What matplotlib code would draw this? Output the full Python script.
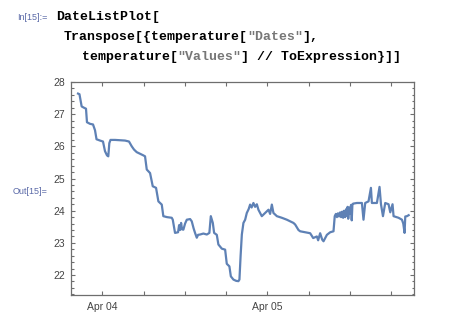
import datetime as dt
import matplotlib
matplotlib.use("Agg")
import matplotlib.pyplot as plt
import matplotlib.dates as mdates
from matplotlib.ticker import MultipleLocator, FuncFormatter

# hours after Apr 04 00:00 and the temperature readings
hours = [-3.53, -3.32, -3.17, -3.0, -2.66, -2.37, -2.23, -1.79, -1.35, -1.06,
         -0.84, -0.33, 0.1, 0.39, 0.68, 0.87, 1.02, 1.19, 1.85, 2.57,
         3.3, 3.88, 4.28, 4.61, 5.0, 5.48, 5.96, 6.21, 6.46, 6.94,
         7.33, 7.81, 8.15, 8.64, 8.87, 9.41, 10.09, 10.24, 10.57, 11.01,
         11.16, 11.3, 11.45, 11.59, 11.78, 12.03, 12.28, 12.76, 13.0, 13.27,
         13.48, 13.73, 13.92, 14.21, 14.69, 15.19, 15.56, 15.77, 16.06, 16.25,
         16.64, 16.87, 17.37, 17.85, 18.09, 18.47, 18.68, 19.05, 19.45, 19.78,
         19.93, 20.1, 20.28, 20.51, 20.76, 21.0, 21.27, 21.48, 21.7, 21.96,
         22.21, 22.46, 22.69, 23.18, 23.67, 24.15, 24.39, 24.64, 24.87, 25.37,
         26.09, 26.82, 27.3, 27.78, 28.03, 28.51, 28.76, 29.48, 30.21, 30.65,
         31.18, 31.37, 31.66, 31.96, 32.15, 32.64, 33.12, 33.6, 33.78, 33.95,
         34.1, 34.25, 34.4, 34.57, 34.7, 34.86, 35.0, 35.15, 35.3, 35.45,
         35.55, 35.65, 35.74, 35.9, 36.03, 36.15, 36.25, 36.35, 36.47, 37.0,
         37.73, 37.96, 38.21, 38.69, 39.04, 39.18, 39.91, 40.29, 40.5, 40.79,
         41.12, 41.6, 41.85, 42.18, 42.33, 43.05, 43.55, 43.74, 43.93, 44.03,
         44.28, 44.52]
temps = [27.64, 27.62, 27.45, 27.24, 27.2, 27.17, 26.75, 26.7, 26.68, 26.5,
         26.22, 26.18, 26.15, 25.85, 25.72, 25.69, 26.1, 26.2, 26.2, 26.19,
         26.18, 26.15, 26.0, 25.9, 25.82, 25.77, 25.72, 25.69, 25.28, 25.17,
         24.76, 24.71, 24.29, 24.19, 23.83, 23.8, 23.78, 23.72, 23.31, 23.33,
         23.55, 23.4, 23.62, 23.42, 23.41, 23.6, 23.72, 23.74, 23.67, 23.45,
         23.31, 23.16, 23.25, 23.26, 23.29, 23.26, 23.31, 23.83, 23.62, 23.31,
         23.25, 22.95, 22.82, 22.79, 22.35, 22.27, 21.96, 21.86, 21.82, 21.81,
         21.86, 22.6, 23.26, 23.62, 23.72, 23.93, 24.05, 24.19, 24.1, 24.24,
         24.12, 24.2, 24.03, 23.83, 23.93, 24.03, 23.9, 24.19, 23.93, 23.83,
         23.78, 23.72, 23.67, 23.62, 23.57, 23.4, 23.36, 23.33, 23.3, 23.15,
         23.2, 23.08, 23.3, 23.1, 23.05, 23.25, 23.33, 23.36, 23.83, 23.9,
         23.8, 23.92, 23.82, 23.95, 23.8, 23.97, 23.78, 24.0, 23.8, 24.05,
         23.85, 24.12, 23.75, 24.1, 23.9, 24.18, 23.7, 24.2, 24.22, 24.24,
         24.24, 23.72, 24.24, 24.29, 24.71, 24.24, 24.24, 24.74, 24.2, 23.83,
         24.24, 24.2, 23.95, 24.2, 23.83, 23.78, 23.72, 23.6, 23.31, 23.82,
         23.83, 23.86]

base = dt.datetime(2015, 4, 4)
times = [base + dt.timedelta(hours=h) for h in hours]

W, H = 472, 319
fig = plt.figure(figsize=(W / 100, H / 100), dpi=100)

def px(x, y):
    return x / W, 1 - y / H

# notebook text
label_col = "#5b6aa8"
fig.text(*px(17, 17), "In[15]:=", fontsize=6.5, color=label_col,
         family="Liberation Sans", va="center")
fig.text(*px(13, 192), "Out[15]=", fontsize=6.5, color=label_col,
         family="Liberation Sans", va="center")

cw = 7.95
code_lines = [
    (56, 17, [("DateListPlot[", "black")]),
    (64, 37, [("Transpose[{temperature[", "black"), ('"Dates"', "#777777"),
              ("],", "black")]),
    (82, 57, [("temperature[", "black"), ('"Values"', "#777777"),
              ("] // ToExpression}]]", "black")]),
]
for x0, y0, parts in code_lines:
    n = 0
    for s, c in parts:
        fig.text(*px(x0 + n * cw, y0), s, fontsize=9.5, family="Liberation Mono",
                 weight="bold", color=c, va="center")
        n += len(s)

# plot
ax = fig.add_axes([71 / W, 1 - 295 / H, 343 / W, 213 / H])
ax.plot(times, temps, color="#5e81b5", lw=1.6)

ax.set_xlim(base + dt.timedelta(hours=-4.55), base + dt.timedelta(hours=45.3))
ax.set_ylim(21.38, 28.0)

ax.xaxis.set_major_locator(mdates.HourLocator(byhour=[0, 6, 12, 18]))
ax.xaxis.set_major_formatter(FuncFormatter(
    lambda v, p: mdates.num2date(v).strftime("%b %d") if mdates.num2date(v).hour == 0 else ""))
ax.yaxis.set_major_locator(MultipleLocator(1))
ax.yaxis.set_minor_locator(MultipleLocator(0.2))

frame_col = "#6e6e6e"
for s in ax.spines.values():
    s.set_color(frame_col)
    s.set_linewidth(0.9)
ax.tick_params(which="both", direction="in", top=True, right=True,
               color=frame_col, width=0.8, labelcolor="#444444",
               labelsize=7.5)
ax.tick_params(which="major", length=3)
ax.tick_params(which="minor", length=1.8)
ax.tick_params(axis="x", pad=5)
ax.tick_params(axis="y", pad=4)
for t in ax.get_xticklabels() + ax.get_yticklabels():
    t.set_family("Liberation Sans")

fig.savefig("out.png", dpi=100)
